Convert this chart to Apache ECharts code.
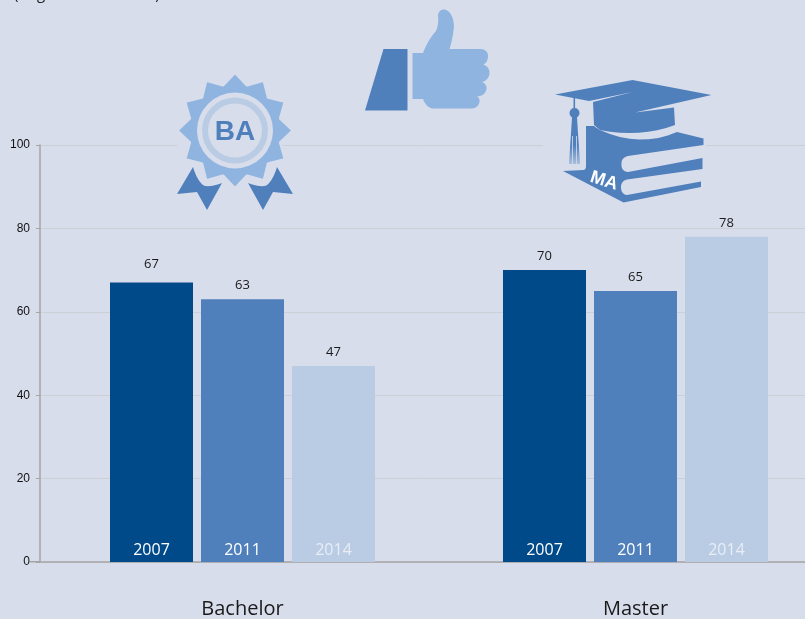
<!DOCTYPE html>
<html>
<head>
<meta charset="utf-8">
<style>html,body{margin:0;padding:0;background:#d8ddec}#main{width:805px;height:619px}</style>
<script src="https://cdn.jsdelivr.net/npm/echarts@6/dist/echarts.min.js"></script>
</head>
<body>
<div id="main"></div>
<script>
var categories = ['Bachelor', 'Master'];
var years = ['2007', '2011', '2014'];
var values2007 = [67, 70];
var values2011 = [63, 65];
var values2014 = [47, 78];
var yTicks = [0, 20, 40, 60, 80, 100];
var subtitle = '(Angaben in Prozent)';

var bg = '#d8ddec', dark = '#004a8a', mid = '#5080bc', light = '#b9cce4', sky = '#8fb4e0';
var barColors = [dark, mid, light];
var allValues = [values2007, values2011, values2014];

var series = [];
years.forEach(function (year, i) {
  // zero height bar, only there to carry the year label at the foot of the column
  series.push({
    type: 'bar', name: year + ' label', stack: year, xAxisIndex: 1, yAxisIndex: 1, barWidth: 83, barGap: '9.64%',
    z: 5, silent: true,
    data: categories.map(function () { return 0; }),
    label: {
      show: true, position: 'top', distance: 4, formatter: year,
      color: i === 2 ? '#e8edf6' : '#ffffff', fontFamily: 'Open Sans', fontSize: 16
    }
  });
  series.push({
    type: 'bar', name: year, stack: year, xAxisIndex: 1, yAxisIndex: 1, barWidth: 83, barGap: '9.64%',
    z: 2, silent: true,
    itemStyle: { color: barColors[i] },
    data: allValues[i].map(function (v) {
      // the 67 sits a bit higher in the original
      return v === 67 ? { value: v, label: { distance: 12 } } : v;
    }),
    label: { show: true, position: 'top', distance: 7, color: '#1a1a1a', fontFamily: 'Open Sans', fontSize: 13 }
  });
});

// graphic component has no path type, so flatten M/L/Q outlines into polygon points
function outline(d) {
  var nums = d.match(/[MLQZ]|-?[\d.]+/g), pts = [], i = 0, cur = null;
  while (i < nums.length) {
    var c = nums[i++];
    if (c === 'M' || c === 'L') {
      cur = [+nums[i], +nums[i + 1]]; i += 2; pts.push(cur);
    } else if (c === 'Q') {
      var cx = +nums[i], cy = +nums[i + 1], ex = +nums[i + 2], ey = +nums[i + 3];
      i += 4;
      for (var t = 1; t <= 8; t++) {
        var u = t / 8;
        pts.push([(1 - u) * (1 - u) * cur[0] + 2 * u * (1 - u) * cx + u * u * ex,
                  (1 - u) * (1 - u) * cur[1] + 2 * u * (1 - u) * cy + u * u * ey]);
      }
      cur = [ex, ey];
    }
  }
  return pts;
}

// badge outline
var star = [];
for (var k = 0; k < 24; k++) {
  var r = k % 2 ? 47 : 58, a = k * Math.PI / 12;
  star.push([235 + r * Math.sin(a), 130.5 - r * Math.cos(a)]);
}

var icons = [
  { type: 'rect', z: 10, shape: { x: 177, y: 140, width: 105, height: 10 }, style: { fill: bg } },
  { type: 'rect', z: 10, shape: { x: 543, y: 140, width: 163, height: 10 }, style: { fill: bg } },
  // BA badge
  { type: 'polygon', z: 11, shape: { points: outline('M193 167 L177 194 L197 192 L207 210 L222 183 Q208 188 203 185 Q197 180 193 167 Z') }, style: { fill: mid } },
  { type: 'polygon', z: 11, shape: { points: outline('M277 167 L293 194 L273 192 L263 210 L248 183 Q262 188 267 185 Q273 180 277 167 Z') }, style: { fill: mid } },
  { type: 'polygon', z: 12, shape: { points: star }, style: { fill: sky, stroke: bg, lineWidth: 3, lineJoin: 'round' } },
  { type: 'circle', z: 13, shape: { cx: 235, cy: 130.5, r: 38 }, style: { fill: bg } },
  { type: 'circle', z: 14, shape: { cx: 235, cy: 130.5, r: 33 }, style: { fill: light } },
  { type: 'circle', z: 15, shape: { cx: 235, cy: 130.5, r: 27 }, style: { fill: bg } },
  { type: 'text', z: 16, x: 235, y: 132, style: { text: 'BA', fill: mid, font: 'bold 28px "Liberation Sans"', align: 'center', verticalAlign: 'middle' } },
  // thumb
  { type: 'polygon', z: 11, shape: { points: [[383.5, 49], [407.5, 49], [407.5, 110.5], [365, 110.5]] }, style: { fill: mid } },
  { type: 'polygon', z: 11, shape: { points: outline('M412.5 53 L423 53 Q428 40 436 31 Q439 24 438 15 Q439 9 445 9.5 Q453 12 454 26 Q453 38 449.5 49 L481 49 Q488 50 488 56 Q488 62 483.5 64.5 Q489.5 67 489.5 73 Q489 80 482 82 Q487 84 486.5 89 Q485 96 477 96.5 Q480 98 479.5 102 Q478 108 472 108.5 L432 108.5 Q426 107 423 99 L412.5 99 Z') }, style: { fill: sky } },
  // MA cap and books
  { type: 'polygon', z: 11, shape: { points: outline('M586 126 L594 126 Q598 129 600 130 Q640 148 677 132 L703.5 138.5 L703.5 145 L628 156 Q621 158 621.5 164 Q621 171 628 172 L702.5 158 L702.5 169 L627 179.5 Q621 181 621 187 Q621 194 627 195 L701 181.5 L701 187 L623.5 202.5 L563 171 L583 170 Q586 170 586 166 Z') }, style: { fill: mid } },
  { type: 'polygon', z: 12, shape: { points: outline('M555 94.5 L632.5 80 L711.5 95 L635 112.5 L674 107.5 L675 125 Q640 138 600 130 L594 125 L593 102 L632.5 92 L589 101 L555 94.5 Z') }, style: { fill: mid } },
  { type: 'rect', z: 12, shape: { x: 573.5, y: 97, width: 1.6, height: 16 }, style: { fill: mid } },
  { type: 'circle', z: 12, shape: { cx: 574.5, cy: 113, r: 5 }, style: { fill: mid } },
  {
    type: 'polygon', z: 12, shape: { points: [[572, 117], [577, 117], [580, 164], [569, 164]] },
    style: { fill: { type: 'linear', x: 0, y: 0, x2: 0, y2: 1, colorStops: [{ offset: 0.6, color: mid }, { offset: 1, color: '#a9bfdc' }] } }
  },
  { type: 'rect', z: 13, shape: { x: 572, y: 136, width: 0.8, height: 28 }, style: { fill: bg } },
  { type: 'rect', z: 13, shape: { x: 576.2, y: 136, width: 0.8, height: 28 }, style: { fill: bg } },
  { type: 'text', z: 13, x: 604, y: 181, rotation: -0.3, style: { text: 'MA', fill: '#fff', font: 'bold 18px "Liberation Sans"', align: 'center', verticalAlign: 'middle' } },
  // long tick at zero
  { type: 'rect', z: 3, shape: { x: 30, y: 561, width: 10, height: 1.5 }, style: { fill: '#a5a5a5' } }
];

var chart = echarts.init(document.getElementById('main'));
chart.setOption({
  animation: false,
  backgroundColor: bg,
  title: { text: subtitle, left: 14, top: -13, padding: 0, textStyle: { fontFamily: 'Open Sans', fontWeight: 'normal', fontSize: 15, color: '#1a1a1a' } },
  grid: [
    { left: 40, right: 0, top: 145, height: 417, outerBoundsMode: 'none' },
    { left: 46, right: -27, top: 145, height: 417, outerBoundsMode: 'none' }
  ],
  xAxis: [
    { gridIndex: 0, type: 'value', min: 0, max: 1, axisLine: { show: true, lineStyle: { color: '#a5a5a5', width: 1.5 } }, axisTick: { show: false }, axisLabel: { show: false }, splitLine: { show: false } },
    { gridIndex: 1, type: 'category', data: categories, axisLine: { show: false }, axisTick: { show: false }, axisLabel: { margin: 37, color: '#1a1a1a', fontFamily: 'Open Sans', fontSize: 20 } }
  ],
  yAxis: [
    {
      gridIndex: 0, type: 'value', min: yTicks[0], max: yTicks[yTicks.length - 1], interval: yTicks[1] - yTicks[0],
      axisLine: { show: true, lineStyle: { color: '#a5a5a5', width: 1.5 } },
      axisTick: { show: true, length: 4, lineStyle: { color: '#a5a5a5' } },
      axisLabel: { margin: 10, color: '#111111', fontFamily: 'Liberation Sans', fontSize: 12 },
      splitLine: { lineStyle: { color: '#cccfd6', width: 1 } }
    },
    { gridIndex: 1, type: 'value', min: 0, max: 100, show: false }
  ],
  series: series,
  graphic: { elements: icons }
});
</script>
</body>
</html>
